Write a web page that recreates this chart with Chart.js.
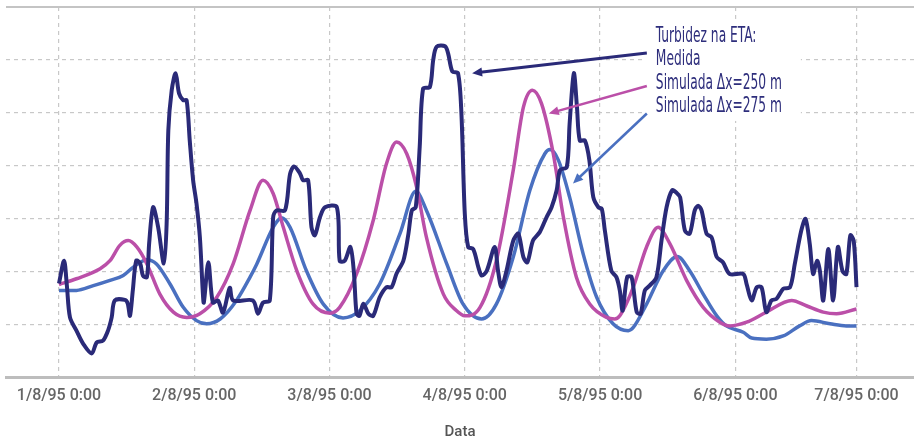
<!DOCTYPE html>
<html>
<head>
<meta charset="utf-8">
<script src="https://cdn.jsdelivr.net/npm/chart.js@4.4.1/dist/chart.umd.min.js"></script>
<style>
  html, body { margin: 0; padding: 0; background: #fff; }
  #wrap { width: 914px; height: 443px; }
</style>
</head>
<body>
<div id="wrap"><canvas id="grafico"></canvas></div>
<script>
// eixo x em horas desde 1/8/95 0:00
const rotulosData = ["1/8/95 0:00", "2/8/95 0:00", "3/8/95 0:00", "4/8/95 0:00", "5/8/95 0:00", "6/8/95 0:00", "7/8/95 0:00"];
const horasRotulos = [0, 24, 48, 72, 96, 120, 141.5];

// Turbidez medida
const medidaHoras = [0, 0.9, 1.4, 1.95, 3.1, 4.3, 5.8, 6.7, 7.8, 8.7, 9.35, 9.9, 11.7, 12.2, 12.6, 13.1, 13.7, 14.4, 14.9, 15.6,
  16.0, 16.7, 17.6, 18.6, 19.1, 19.4, 20.0, 20.7, 21.3, 22.05, 22.65, 23.2, 23.8, 24.4, 25.0, 25.5, 25.7, 26.5, 27.3, 28.2,
  29.1, 30.3, 30.9, 34.4, 35.3, 36.2, 37.4, 38.0, 38.6, 40.1, 41.0, 41.7, 42.75, 43.3, 44.2, 44.8, 45.4, 46.3, 47.2, 49.3,
  49.8, 50.7, 51.7, 52.3, 52.8, 53.3, 54.0, 54.9, 55.75, 56.9, 58.1, 59.0, 59.9, 61.1, 62.0, 62.6, 63.3, 64.0, 64.6, 65.8,
  66.4, 67.0, 68.5, 69.05, 69.8, 70.8, 71.4, 72.0, 72.6, 73.5, 74.4, 75.0, 75.9, 77.3, 77.9, 78.5, 79.4, 80.6, 81.5, 82.4,
  83.1, 84.1, 85.3, 86.5, 87.4, 88.3, 88.9, 90.1, 90.6, 91.35, 91.9, 92.4, 93.3, 94.1, 94.8, 95.7, 96.3, 96.85, 98.0, 98.9,
  99.5, 100.0, 100.8, 101.6, 102.5, 103.2, 103.95, 104.8, 106.0, 106.9, 107.8, 108.8, 109.6, 110.2, 111.05, 111.9, 112.8, 113.4, 114.0, 114.9,
  115.8, 116.7, 117.8, 119.0, 121.4, 122.0, 122.9, 123.8, 124.65, 125.5, 126.4, 127.3, 128.5, 129.7, 130.55, 131.7, 132.45, 133.2, 133.8, 134.5,
  135.0, 135.6, 136.5, 137.35, 138.2, 139.0, 139.7, 140.4, 141.0, 141.5];
const medidaValores = [1.78, 2.21, 1.74, 1.14, 0.89, 0.64, 0.46, 0.67, 0.70, 0.89, 1.14, 1.46, 1.47, 1.40, 1.17, 1.65, 2.21, 2.16, 1.93, 1.90,
  2.54, 3.22, 2.84, 2.16, 2.91, 4.67, 5.43, 5.75, 5.37, 5.24, 5.24, 4.48, 3.73, 3.29, 2.65, 1.65, 1.42, 2.18, 1.42, 1.46,
  1.23, 1.70, 1.46, 1.46, 1.21, 1.42, 1.46, 3.03, 3.16, 3.16, 3.85, 3.99, 3.86, 3.73, 3.73, 2.84, 2.69, 3.03, 3.22, 3.22,
  2.21, 2.21, 2.47, 2.02, 1.21, 1.17, 1.40, 1.21, 1.17, 1.52, 1.71, 1.71, 1.97, 2.21, 2.72, 3.16, 3.22, 4.36, 5.46, 5.49,
  6.00, 6.25, 6.26, 6.12, 5.78, 5.75, 4.99, 3.10, 2.47, 2.43, 2.09, 1.93, 2.02, 2.47, 2.02, 1.71, 2.02, 2.59, 2.72, 2.28,
  2.18, 2.59, 2.75, 3.03, 3.22, 3.54, 3.92, 3.98, 4.80, 5.75, 5.11, 4.48, 4.48, 4.11, 3.41, 3.22, 3.19, 2.78, 2.02, 1.90,
  1.65, 1.27, 1.90, 1.90, 1.24, 1.21, 1.65, 1.74, 1.90, 2.59, 3.22, 3.54, 3.49, 3.41, 2.78, 2.72, 3.16, 3.25, 3.16, 2.72,
  2.65, 2.28, 2.18, 1.96, 1.96, 1.77, 1.46, 1.71, 1.71, 1.24, 1.46, 1.49, 1.68, 1.71, 2.15, 2.78, 3.00, 2.53, 1.96, 2.21,
  2.02, 1.46, 2.43, 1.46, 2.47, 2.02, 1.96, 2.69, 2.59, 1.71];

// Simulada dx = 250 m
const sim250Horas = [0, 3.1, 7.3, 9.05, 10.8, 12.3, 13.8, 15.6, 17.9, 20.3, 22.65, 25.0, 28.0, 30.9, 33.9, 36.2, 38.0, 39.8, 42.2, 45.1,
  48.1, 49.8, 52.8, 55.75, 58.1, 59.9, 61.7, 63.45, 65.2, 68.2, 70.5, 72.0, 74.7, 77.6, 80.6, 82.4, 84.0, 85.6, 87.7, 89.5,
  91.8, 94.2, 97.15, 98.6, 99.5, 101.9, 104.25, 106.3, 108.4, 111.35, 114.3, 117.25, 119.0, 122.0, 125.5, 130.0, 132.6, 135.6, 137.95, 141.5];
const sim250Valores = [1.76, 1.87, 2.06, 2.21, 2.50, 2.59, 2.47, 2.15, 1.58, 1.24, 1.14, 1.21, 1.52, 2.15, 3.16, 3.73, 3.48, 2.84, 2.02, 1.39,
  1.22, 1.33, 1.96, 2.97, 4.04, 4.45, 4.23, 3.60, 2.65, 1.58, 1.27, 1.17, 1.33, 2.21, 3.92, 5.11, 5.43, 5.18, 4.23, 3.03,
  1.90, 1.39, 1.14, 1.11, 1.17, 1.71, 2.47, 2.84, 2.53, 1.84, 1.33, 1.05, 0.98, 1.05, 1.24, 1.46, 1.36, 1.24, 1.21, 1.30];

// Simulada dx = 275 m
const sim275Horas = [0, 3.1, 6.1, 9.05, 11.4, 13.2, 15.6, 17.3, 19.7, 22.05, 24.4, 26.2, 28.6, 31.5, 33.9, 35.1, 38.0, 39.5, 41.0, 43.9,
  46.9, 50.4, 53.4, 56.9, 60.5, 63.3, 65.2, 68.8, 71.7, 75.0, 77.6, 80.6, 83.55, 86.2, 87.1, 88.6, 90.6, 93.0, 95.4, 98.3,
  101.0, 101.9, 104.25, 107.2, 109.7, 111.9, 114.3, 116.7, 118.4, 121.4, 122.9, 125.5, 128.5, 131.4, 133.5, 136.8, 139.7, 141.5];
const sim275Valores = [1.65, 1.65, 1.74, 1.84, 1.93, 2.09, 2.23, 2.15, 1.77, 1.33, 1.08, 1.02, 1.11, 1.46, 1.90, 2.15, 2.84, 3.02, 2.84, 2.02,
  1.39, 1.13, 1.27, 1.77, 2.72, 3.52, 3.16, 2.15, 1.39, 1.11, 1.39, 2.28, 3.54, 4.23, 4.31, 4.11, 3.41, 2.34, 1.52, 1.02,
  0.89, 0.95, 1.39, 2.02, 2.29, 2.02, 1.58, 1.17, 0.98, 0.86, 0.75, 0.73, 0.79, 0.98, 1.08, 1.02, 0.98, 0.98];

const legendaTitulo = "Turbidez na ETA:";
const legendaNomes = ["Medida", "Simulada \u0394x=250 m", "Simulada \u0394x=275 m"];
const cores = ["#2a2a78", "#bb4fa8", "#4a70c0"];
// setas: [hora cauda, valor cauda, hora ponta, valor ponta]
const setas = [
  [104.3, 6.13, 73.3, 5.75],
  [104.3, 5.51, 86.9, 4.99],
  [104.3, 4.99, 91.2, 3.67]
];

function pares(hs, vs) {
  return hs.map((h, i) => ({ x: h, y: vs[i] }));
}

// moldura superior + caixa de legenda com setas
const anotacoes = {
  id: "anotacoes",
  beforeDatasetsDraw(chart) {
    const { ctx, chartArea } = chart;
    ctx.save();
    ctx.strokeStyle = "#c4c4c4";
    ctx.lineWidth = 2;
    ctx.beginPath();
    ctx.moveTo(chartArea.left, chartArea.top);
    ctx.lineTo(chartArea.right, chartArea.top);
    ctx.stroke();
    const xs = chart.scales.x, ys = chart.scales.y;
    const tx = xs.getPixelForValue(105.9);
    const ty = ys.getPixelForValue(6.34);
    ctx.fillStyle = "#fff";
    ctx.fillRect(tx - 11, ty - 23, 156, 102);
    ctx.restore();
  },
  afterDatasetsDraw(chart) {
    const { ctx } = chart;
    const xs = chart.scales.x, ys = chart.scales.y;
    ctx.save();
    setas.forEach((s, i) => {
      const x1 = xs.getPixelForValue(s[0]), y1 = ys.getPixelForValue(s[1]);
      const x2 = xs.getPixelForValue(s[2]), y2 = ys.getPixelForValue(s[3]);
      const ang = Math.atan2(y2 - y1, x2 - x1);
      ctx.strokeStyle = cores[i];
      ctx.fillStyle = cores[i];
      ctx.lineWidth = i === 0 ? 3 : 2.5;
      ctx.beginPath();
      ctx.moveTo(x1, y1);
      ctx.lineTo(x2 - 6 * Math.cos(ang), y2 - 6 * Math.sin(ang));
      ctx.stroke();
      ctx.beginPath();
      ctx.moveTo(x2, y2);
      ctx.lineTo(x2 - 10 * Math.cos(ang) + 4.5 * Math.sin(ang), y2 - 10 * Math.sin(ang) - 4.5 * Math.cos(ang));
      ctx.lineTo(x2 - 10 * Math.cos(ang) - 4.5 * Math.sin(ang), y2 - 10 * Math.sin(ang) + 4.5 * Math.cos(ang));
      ctx.closePath();
      ctx.fill();
    });
    const tx = xs.getPixelForValue(105.9);
    const ty = ys.getPixelForValue(6.34);
    ctx.font = "21px 'Liberation Sans Narrow', 'DejaVu Sans Condensed', sans-serif";
    ctx.fillStyle = "#2e2e7c";
    ctx.textBaseline = "alphabetic";
    const sx = 126 / ctx.measureText(legendaNomes[1]).width;
    const linhas = [legendaTitulo].concat(legendaNomes);
    linhas.forEach((t, i) => {
      ctx.save();
      ctx.translate(tx, ty + i * 23.3);
      ctx.scale(sx, 1);
      ctx.fillText(t, 0, 0);
      ctx.restore();
    });
    ctx.restore();
  }
};

new Chart(document.getElementById("grafico"), {
  type: "line",
  data: {
    datasets: [
      { label: legendaNomes[0], data: pares(medidaHoras, medidaValores), borderColor: cores[0], borderWidth: 4, tension: 0.3, order: 1 },
      { label: legendaNomes[1], data: pares(sim250Horas, sim250Valores), borderColor: cores[1], borderWidth: 3.5, cubicInterpolationMode: "monotone", order: 2 },
      { label: legendaNomes[2], data: pares(sim275Horas, sim275Valores), borderColor: cores[2], borderWidth: 3.5, cubicInterpolationMode: "monotone", order: 3 }
    ]
  },
  options: {
    responsive: true,
    maintainAspectRatio: false,
    animation: false,
    layout: { padding: { left: 6, right: 0, top: 7, bottom: 0 } },
    elements: { point: { radius: 0 } },
    plugins: { legend: { display: false }, tooltip: { enabled: false } },
    scales: {
      x: {
        type: "linear",
        min: -9.4,
        max: 151.7,
        afterBuildTicks(axis) {
          axis.ticks = horasRotulos.map(v => ({ value: v }));
        },
        grid: { color: "#c8c8c8", lineWidth: 1.2, drawTicks: false },
        border: { display: true, color: "#bdbdbd", width: 3, dash: [4, 4] },
        ticks: {
          autoSkip: false,
          maxRotation: 0,
          padding: 9,
          color: "#666",
          font: { family: "Roboto", size: 16, weight: "500" },
          callback: (v) => rotulosData[horasRotulos.indexOf(v)]
        },
        title: {
          display: true,
          text: "Data",
          color: "#555",
          font: { family: "Roboto", size: 15, weight: "500" },
          padding: { top: 8, bottom: 2 }
        }
      },
      y: {
        min: 0,
        max: 7,
        ticks: { display: false, stepSize: 1 },
        grid: {
          drawTicks: false,
          lineWidth: 1.2,
          color: (c) => (c.tick && (c.tick.value === 0 || c.tick.value === 7)) ? "rgba(0,0,0,0)" : "#c8c8c8"
        },
        border: { display: false, dash: [4, 4] }
      }
    }
  },
  plugins: [anotacoes]
});
</script>
</body>
</html>
